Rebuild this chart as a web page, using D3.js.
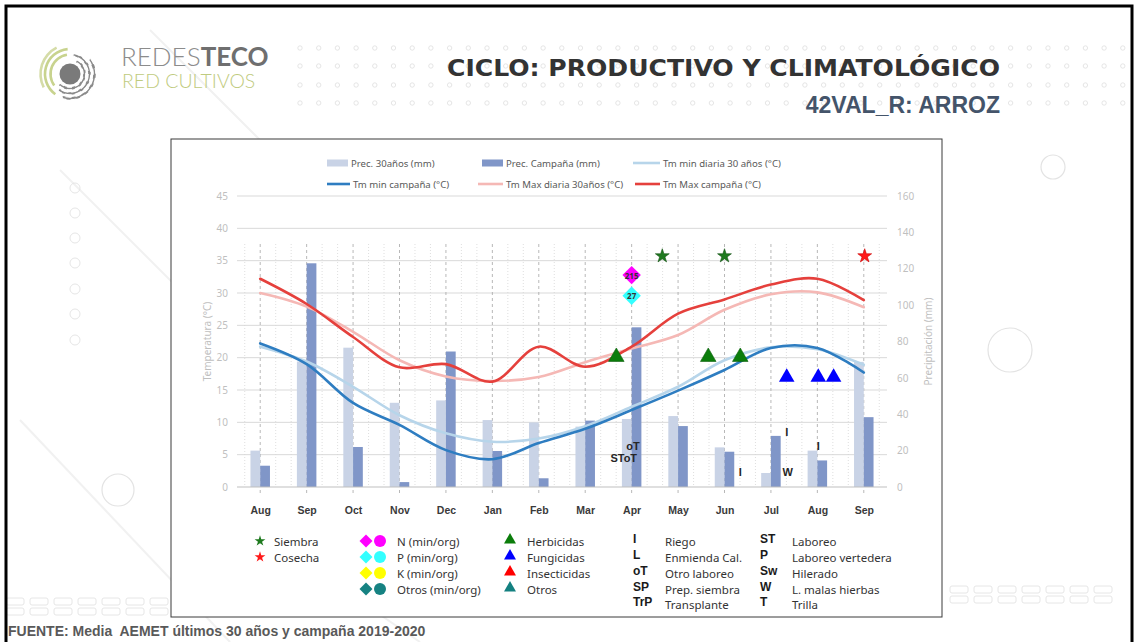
<!DOCTYPE html>
<html>
<head>
<meta charset="utf-8">
<script src="https://cdn.jsdelivr.net/npm/d3@7"></script>
<style>
  body { margin: 0; background: #fff; }
  svg { display: block; font-family: "Noto Sans", sans-serif; }
</style>
</head>
<body>
<svg id="slide" width="1135" height="642"></svg>
<script>
// Months on the category axis (Aug 2019 .. Sep 2020)
const MONTHS = ["Aug", "Sep", "Oct", "Nov", "Dec", "Jan", "Feb", "Mar", "Apr", "May", "Jun", "Jul", "Aug", "Sep"];

// Precipitation (mm), right axis
const PREC_30 = [20.0, 69.0, 76.6, 46.3, 47.6, 36.8, 35.5, 33.2, 37.4, 39.0, 21.8, 7.7, 20.0, 68.8];
const PREC_CAMP = [11.7, 123.0, 22.0, 2.7, 74.5, 19.8, 4.8, 36.5, 87.8, 33.5, 19.4, 28.1, 14.6, 38.4];

// Temperatures (°C), left axis
const TMIN_30 = [21.7, 19.4, 15.5, 11.1, 8.3, 7.0, 7.5, 9.4, 12.4, 15.5, 19.6, 21.6, 21.3, 18.9];
const TMIN_CAMP = [22.2, 19.0, 13.0, 9.6, 5.7, 4.3, 6.8, 9.0, 11.9, 14.9, 18.1, 21.5, 21.5, 17.7];
const TMAX_30 = [30.0, 27.9, 24.0, 19.6, 17.1, 16.4, 17.0, 19.3, 21.4, 23.5, 27.4, 29.8, 30.1, 27.8];
const TMAX_CAMP = [32.2, 28.3, 23.2, 18.5, 19.0, 16.3, 21.7, 18.6, 21.7, 26.8, 29.0, 31.3, 32.2, 28.9];

// Axis ticks
const TEMP_TICKS = [0, 5, 10, 15, 20, 25, 30, 35, 40, 45];
const PREC_TICKS = [0, 20, 40, 60, 80, 100, 120, 140, 160];

// Field operations (position in month index, value on the precipitation scale)
const SIEMBRA = [8.66, 10.0];
const COSECHA = [13.02];
const STAR_LEVEL = 127;
const FERT_POS = [8.0, 8.0];
const FERT_LEVEL = [116.5, 105.2];
const FERT_LABEL = ["215", "27"];
const FERT_COLOR = ["#ff00ff", "#33ffff"];
const HERBICIDAS = [7.67, 9.65, 10.34];
const HERB_LEVEL = 71.5;
const FUNGICIDAS = [11.34, 12.02, 12.35];
const FUNG_LEVEL = 60.3;
const LABOUR_POS = [8.03, 7.83, 10.34, 11.34, 11.36, 12.02];
const LABOUR_LEVEL = [22.7, 15.8, 8.4, 30.0, 8.4, 22.7];
const LABOUR_CODE = ["oT", "SToT", "I", "I", "W", "I"];

const COLORS = {
  prec30: "#c9d3e6", precCamp: "#8096c8",
  tmin30: "#b7d5ea", tminCamp: "#2e7dc1",
  tmax30: "#f5b8b5", tmaxCamp: "#e5403c",
  herb: "#0b7d0b", fung: "#0000ff", insect: "#ff0000", otros: "#138080"
};

const SVG = d3.select("#slide");

// ---------- slide background ----------
const BG = SVG.append("g");
BG.append("rect").attr("x", 0).attr("y", 0).attr("width", 1135).attr("height", 642).attr("fill", "#fff");

// faint diagonal streaks
[[150, 30, 420, 300], [60, 170, 360, 470], [20, 420, 230, 642], [300, 560, 420, 642]].forEach((l) => {
  BG.append("line").attr("x1", l[0]).attr("y1", l[1]).attr("x2", l[2]).attr("y2", l[3])
    .attr("stroke", "#f1f1f1").attr("stroke-width", 2);
});

// dotted pattern behind the title
[48, 66, 85, 103].forEach((y) => {
  for (let x = 300; x < 1130; x += 18.7) {
    BG.append("circle").attr("cx", x).attr("cy", y).attr("r", 2.2)
      .attr("fill", "none").attr("stroke", "#dedede").attr("stroke-width", 0.8);
  }
});

// small circles column on the left
[188, 213, 238, 263, 289, 314, 340].forEach((y) => {
  BG.append("circle").attr("cx", 75).attr("cy", y).attr("r", 5)
    .attr("fill", "none").attr("stroke", "#e6e6e6");
});
[[1053, 167, 12], [1010, 350, 22], [118, 490, 16]].forEach((c) => {
  BG.append("circle").attr("cx", c[0]).attr("cy", c[1]).attr("r", c[2])
    .attr("fill", "none").attr("stroke", "#e3e3e3").attr("stroke-width", 1.2);
});

// rounded boxes at the bottom corners
for (let r = 0; r < 2; r++) {
  for (let c = 0; c < 7; c++) {
    BG.append("rect").attr("x", 6 + c * 24).attr("y", 598 + r * 10).attr("width", 18).attr("height", 7)
      .attr("rx", 2).attr("fill", "none").attr("stroke", "#e6e6e6");
  }
  for (let c = 0; c < 7; c++) {
    BG.append("rect").attr("x", 950 + c * 24).attr("y", 586 + r * 10).attr("width", 18).attr("height", 7)
      .attr("rx", 2).attr("fill", "none").attr("stroke", "#e6e6e6");
  }
}

// slide frame
SVG.append("rect").attr("x", 6).attr("y", 6).attr("width", 1126).attr("height", 660)
  .attr("fill", "none").attr("stroke", "#000").attr("stroke-width", 3);

// ---------- header ----------
const LOGO = SVG.append("g").attr("transform", "translate(70,74)");
LOGO.append("circle").attr("r", 10.5).attr("fill", "#7a7a7a");
const ARC = d3.arc();
[[14.5, 0.15, 1.25, "#8a8a8a", "5 3"], [19.5, 0.05, 1.2, "#8a8a8a", "7 3"], [24.5, 0.3, 1.1, "#8a8a8a", "6 4"],
 [19.5, 1.3, 1.95, "#c8d38e", null], [25, 1.2, 1.97, "#c8d38e", null], [29.5, 1.35, 1.85, "#d5dca7", null]]
  .forEach((a) => {
    LOGO.append("path")
      .attr("d", ARC({innerRadius: a[0] - 1.3, outerRadius: a[0] + 1.3, startAngle: a[1] * Math.PI, endAngle: a[2] * Math.PI}))
      .attr("fill", a[3])
      .attr("stroke", "#fff").attr("stroke-width", a[4] ? 1.2 : 0)
      .attr("stroke-dasharray", a[4]);
  });

const BRAND = SVG.append("text").attr("x", 121).attr("y", 66)
  .style("font-family", "Lato, 'Noto Sans', sans-serif").style("font-size", "26px");
BRAND.append("tspan").text("REDES").attr("fill", "#8c8c8c").style("font-weight", 300);
BRAND.append("tspan").text("TECO").attr("fill", "#6f6f6f").style("font-weight", 700);
SVG.append("text").attr("x", 122).attr("y", 88).text("RED CULTIVOS")
  .style("font-family", "Lato, 'Noto Sans', sans-serif").style("font-size", "19.5px").style("font-weight", 300)
  .attr("fill", "#bfcb80");

SVG.append("text").attr("x", 447).attr("y", 76)
  .text("CICLO: PRODUCTIVO Y CLIMATOLÓGICO")
  .attr("textLength", 553).attr("lengthAdjust", "spacingAndGlyphs")
  .style("font-family", "'DejaVu Sans', sans-serif").style("font-weight", "bold").style("font-size", "23px")
  .attr("fill", "#333");

SVG.append("text").attr("x", 1000).attr("y", 113).attr("text-anchor", "end")
  .text("42VAL_R: ARROZ")
  .style("font-family", "'Liberation Sans', Arial, sans-serif").style("font-weight", "bold").style("font-size", "23px")
  .attr("fill", "#44546a");

SVG.append("text").attr("x", 8).attr("y", 636)
  .attr("xml:space", "preserve").style("white-space", "pre")
  .text("FUENTE: Media  AEMET últimos 30 años y campaña 2019-2020")
  .style("font-family", "'Liberation Sans', Arial, sans-serif").style("font-weight", "bold").style("font-size", "14px")
  .attr("fill", "#595959");

// ---------- chart box ----------
SVG.append("rect").attr("x", 171).attr("y", 139).attr("width", 771).attr("height", 478)
  .attr("fill", "#fff").attr("stroke", "#3a3a3a").attr("stroke-width", 1);

// ---------- plot ----------
const PLOT = {left: 237, top: 196, width: 650, height: 291};
const VGRID_TOP = 48;   // vertical grid starts a bit below the top of the plot

const X_SCALE = d3.scaleLinear().domain([-0.5, MONTHS.length - 0.5]).range([0, PLOT.width]);
const Y_TEMP = d3.scaleLinear().domain([0, 45]).range([PLOT.height, 0]);
const Y_PREC = d3.scaleLinear().domain([0, 160]).range([PLOT.height, 0]);
const STEP = X_SCALE(1) - X_SCALE(0);
const BAR_W = STEP * 0.21;

const FRAME = SVG.append("g").attr("transform", "translate(" + PLOT.left + "," + PLOT.top + ")");

// horizontal grid
FRAME.selectAll(".hgrid")
  .data(TEMP_TICKS.filter((t) => t > 0))
  .enter()
  .append("line")
    .attr("x1", 0).attr("x2", PLOT.width)
    .attr("y1", (d) => Y_TEMP(d)).attr("y2", (d) => Y_TEMP(d))
    .attr("stroke", "#d9d9d9").attr("stroke-width", 1);

// minor dotted vertical grid (thirds of a month)
const MINOR = d3.range(-1, MONTHS.length * 3 - 1).filter((k) => k % 3 !== 0).map((k) => k / 3);
FRAME.selectAll(".minor")
  .data(MINOR)
  .enter()
  .append("line")
    .attr("x1", (d) => X_SCALE(d)).attr("x2", (d) => X_SCALE(d))
    .attr("y1", VGRID_TOP).attr("y2", PLOT.height)
    .attr("stroke", "#d6d6d6").attr("stroke-width", 0.8).attr("stroke-dasharray", "1 2");

// major dashed vertical grid (month centres)
FRAME.selectAll(".major")
  .data(d3.range(MONTHS.length))
  .enter()
  .append("line")
    .attr("x1", (d) => X_SCALE(d)).attr("x2", (d) => X_SCALE(d))
    .attr("y1", VGRID_TOP).attr("y2", PLOT.height + 6)
    .attr("stroke", "#a6a6a6").attr("stroke-width", 0.8).attr("stroke-dasharray", "3 3");

// bars
FRAME.selectAll(".bar30")
  .data(PREC_30)
  .enter()
  .append("rect")
    .attr("x", (d, i) => X_SCALE(i) - BAR_W)
    .attr("y", (d) => Y_PREC(d))
    .attr("width", BAR_W)
    .attr("height", (d) => PLOT.height - Y_PREC(d))
    .attr("fill", COLORS.prec30);

FRAME.selectAll(".barCamp")
  .data(PREC_CAMP)
  .enter()
  .append("rect")
    .attr("x", (d, i) => X_SCALE(i))
    .attr("y", (d) => Y_PREC(d))
    .attr("width", BAR_W)
    .attr("height", (d) => PLOT.height - Y_PREC(d))
    .attr("fill", COLORS.precCamp);

// zero line
FRAME.append("line").attr("x1", 0).attr("x2", PLOT.width)
  .attr("y1", PLOT.height).attr("y2", PLOT.height)
  .attr("stroke", "#bfbfbf").attr("stroke-width", 1);

// temperature lines
const LINE = d3.line()
  .x((d, i) => X_SCALE(i))
  .y((d) => Y_TEMP(d))
  .curve(d3.curveCatmullRom.alpha(0.5));

[[TMIN_30, COLORS.tmin30], [TMIN_CAMP, COLORS.tminCamp], [TMAX_30, COLORS.tmax30], [TMAX_CAMP, COLORS.tmaxCamp]]
  .forEach((s) => {
    FRAME.append("path")
      .attr("d", LINE(s[0]))
      .attr("fill", "none")
      .attr("stroke", s[1])
      .attr("stroke-width", 2.6)
      .attr("stroke-linecap", "round");
  });

// axes
const LEFT_AXIS = FRAME.append("g")
  .call(d3.axisLeft(Y_TEMP).tickValues(TEMP_TICKS).tickSize(0).tickPadding(9));
const RIGHT_AXIS = FRAME.append("g")
  .attr("transform", "translate(" + PLOT.width + ",0)")
  .call(d3.axisRight(Y_PREC).tickValues(PREC_TICKS).tickSize(0).tickPadding(10));
const BOTTOM_AXIS = FRAME.append("g")
  .attr("transform", "translate(0," + PLOT.height + ")")
  .call(d3.axisBottom(X_SCALE).tickValues(d3.range(MONTHS.length)).tickFormat((i) => MONTHS[i]).tickSize(0).tickPadding(20));

[LEFT_AXIS, RIGHT_AXIS, BOTTOM_AXIS].forEach((a) => a.select(".domain").remove());
[LEFT_AXIS, RIGHT_AXIS].forEach((a) => {
  a.selectAll("text").attr("fill", "#bfbfbf").style("font-size", "10px")
    .style("font-family", "'Noto Sans', sans-serif");
});
BOTTOM_AXIS.selectAll("text").attr("fill", "#3a3a3a").style("font-size", "10.5px")
  .style("font-weight", "bold").style("font-family", "'Liberation Sans', Arial, sans-serif");

FRAME.append("text")
  .attr("transform", "translate(-30," + (PLOT.height / 2) + ") rotate(-90)")
  .attr("text-anchor", "middle").attr("dominant-baseline", "central")
  .style("font-size", "10px").attr("fill", "#bfbfbf")
  .text("Temperatura (°C)");
FRAME.append("text")
  .attr("transform", "translate(" + (PLOT.width + 41) + "," + (PLOT.height / 2) + ") rotate(-90)")
  .attr("text-anchor", "middle").attr("dominant-baseline", "central")
  .style("font-size", "10px").attr("fill", "#bfbfbf")
  .text("Precipitación (mm)");

// ---------- operation markers ----------
const STAR = d3.symbol().type(d3.symbolStar).size(60);
const TRI = d3.symbol().type(d3.symbolTriangle).size(105);
const SQUARE = d3.symbol().type(d3.symbolSquare).size(170);

FRAME.selectAll(".siembra")
  .data(SIEMBRA)
  .enter()
  .append("path")
    .attr("d", STAR)
    .attr("transform", (d) => "translate(" + X_SCALE(d) + "," + Y_PREC(STAR_LEVEL) + ")")
    .attr("fill", "#1f7a1f").attr("stroke", "#145214").attr("stroke-width", 0.6);

FRAME.selectAll(".cosecha")
  .data(COSECHA)
  .enter()
  .append("path")
    .attr("d", STAR)
    .attr("transform", (d) => "translate(" + X_SCALE(d) + "," + Y_PREC(STAR_LEVEL) + ")")
    .attr("fill", "#ff1a1a").attr("stroke", "#cc0000").attr("stroke-width", 0.6);

FERT_POS.forEach((m, i) => {
  const g = FRAME.append("g")
    .attr("transform", "translate(" + X_SCALE(m) + "," + Y_PREC(FERT_LEVEL[i]) + ")");
  g.append("path").attr("d", SQUARE).attr("transform", "rotate(45)").attr("fill", FERT_COLOR[i]);
  g.append("text").attr("text-anchor", "middle").attr("dominant-baseline", "central")
    .style("font-size", "8px").style("font-weight", "bold").attr("fill", "#333")
    .text(FERT_LABEL[i]);
});

FRAME.selectAll(".herb")
  .data(HERBICIDAS)
  .enter()
  .append("path")
    .attr("d", TRI)
    .attr("transform", (d) => "translate(" + X_SCALE(d) + "," + Y_PREC(HERB_LEVEL) + ")")
    .attr("fill", COLORS.herb).attr("stroke", "#0a5e0a").attr("stroke-width", 0.6);

FRAME.selectAll(".fung")
  .data(FUNGICIDAS)
  .enter()
  .append("path")
    .attr("d", TRI)
    .attr("transform", (d) => "translate(" + X_SCALE(d) + "," + Y_PREC(FUNG_LEVEL) + ")")
    .attr("fill", COLORS.fung);

FRAME.selectAll(".labour")
  .data(LABOUR_POS)
  .enter()
  .append("text")
    .attr("x", (d) => X_SCALE(d))
    .attr("y", (d, i) => Y_PREC(LABOUR_LEVEL[i]))
    .attr("text-anchor", "middle").attr("dominant-baseline", "central")
    .style("font-family", "'Liberation Sans', Arial, sans-serif")
    .style("font-size", "11px").style("font-weight", "bold").attr("fill", "#262626")
    .text((d, i) => LABOUR_CODE[i]);

// ---------- top legend ----------
const TOP_LEGEND = [
  {type: "rect", x: 327, y: 163, w: 21, color: COLORS.prec30, label: "Prec. 30años (mm)"},
  {type: "rect", x: 482, y: 163, w: 21, color: COLORS.precCamp, label: "Prec. Campaña (mm)"},
  {type: "line", x: 633, y: 163, w: 27, color: COLORS.tmin30, label: "Tm min diaria 30 años (°C)"},
  {type: "line", x: 327, y: 184, w: 23, color: COLORS.tminCamp, label: "Tm min campaña (°C)"},
  {type: "line", x: 478, y: 184, w: 25, color: COLORS.tmax30, label: "Tm Max diaria 30años (°C)"},
  {type: "line", x: 635, y: 184, w: 25, color: COLORS.tmaxCamp, label: "Tm Max campaña (°C)"}
];
TOP_LEGEND.forEach((d) => {
  if (d.type === "rect") {
    SVG.append("rect").attr("x", d.x).attr("y", d.y - 3.5).attr("width", d.w).attr("height", 7).attr("fill", d.color);
  } else {
    SVG.append("line").attr("x1", d.x).attr("x2", d.x + d.w).attr("y1", d.y).attr("y2", d.y)
      .attr("stroke", d.color).attr("stroke-width", 2.6);
  }
  SVG.append("text").attr("x", d.x + d.w + 3).attr("y", d.y).attr("dominant-baseline", "central")
    .style("font-size", "9.6px").attr("fill", "#595959").text(d.label);
});

// ---------- bottom legend ----------
const ROWS = [541, 557, 573, 589, 604];
const LEG_FONT = "11.5px";

function legendText(x, y, txt, bold) {
  SVG.append("text").attr("x", x).attr("y", y).attr("dominant-baseline", "central")
    .style("font-size", bold ? "12px" : LEG_FONT)
    .style("font-family", bold ? "'Liberation Sans', Arial, sans-serif" : "'Noto Sans', sans-serif")
    .style("font-weight", bold ? "bold" : "normal")
    .attr("fill", bold ? "#1a1a1a" : "#333")
    .text(txt);
}

const LSTAR = d3.symbol().type(d3.symbolStar).size(36);
[["Siembra", "#1f7a1f"], ["Cosecha", "#ff1a1a"]].forEach((s, i) => {
  SVG.append("path").attr("d", LSTAR).attr("transform", "translate(260," + ROWS[i] + ")").attr("fill", s[1]);
  legendText(274, ROWS[i], s[0]);
});

const LSQUARE = d3.symbol().type(d3.symbolSquare).size(84);
[["N (min/org)", "#ff00ff"], ["P (min/org)", "#33ffff"], ["K (min/org)", "#ffff00"], ["Otros (min/org)", "#168282"]]
  .forEach((s, i) => {
    SVG.append("path").attr("d", LSQUARE).attr("transform", "translate(366," + ROWS[i] + ") rotate(45)").attr("fill", s[1]);
    SVG.append("circle").attr("cx", 380).attr("cy", ROWS[i]).attr("r", 6).attr("fill", s[1]);
    legendText(397, ROWS[i], s[0]);
  });

const LTRI = d3.symbol().type(d3.symbolTriangle).size(62);
[["Herbicidas", COLORS.herb], ["Fungicidas", COLORS.fung], ["Insecticidas", COLORS.insect], ["Otros", COLORS.otros]]
  .forEach((s, i) => {
    SVG.append("path").attr("d", LTRI).attr("transform", "translate(510," + (ROWS[i] - 1) + ")").attr("fill", s[1]);
    legendText(527, ROWS[i], s[0]);
  });

[["I", "Riego"], ["L", "Enmienda Cal."], ["oT", "Otro laboreo"], ["SP", "Prep. siembra"], ["TrP", "Transplante"]]
  .forEach((s, i) => {
    legendText(633, ROWS[i] - 2, s[0], true);
    legendText(665, ROWS[i], s[1]);
  });
[["ST", "Laboreo"], ["P", "Laboreo vertedera"], ["Sw", "Hilerado"], ["W", "L. malas hierbas"], ["T", "Trilla"]]
  .forEach((s, i) => {
    legendText(760, ROWS[i] - 2, s[0], true);
    legendText(792, ROWS[i], s[1]);
  });
</script>
</body>
</html>
